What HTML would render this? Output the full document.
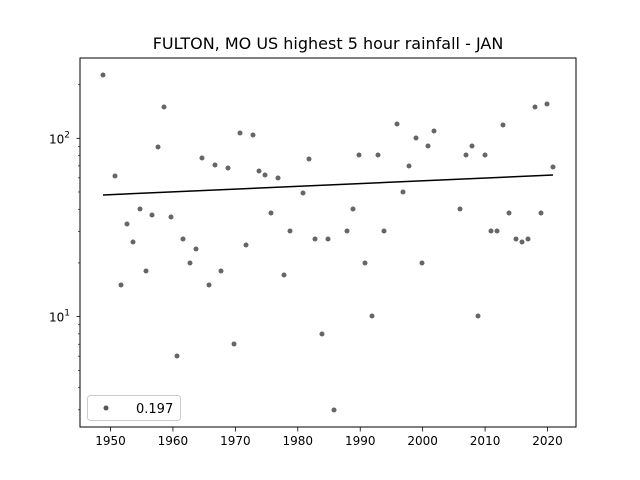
<!DOCTYPE html>
<html><head><style>body{margin:0;background:#fff}svg{display:block}text{font-family:"DejaVu Sans","Liberation Sans",sans-serif}</style></head>
<body>
<svg id="s" width="640" height="480" xmlns="http://www.w3.org/2000/svg">
<rect width="640" height="480" fill="#fff"/>
<text x="328" y="49" font-size="16" text-anchor="middle">FULTON, MO US highest 5 hour rainfall - JAN</text>
<g id="pts" fill="#555" fill-opacity="0.9"></g>
<line x1="103" y1="195" x2="553" y2="175" stroke="#000" stroke-width="1.5"/>
<rect x="80" y="58" width="496" height="369" fill="none" stroke="#000" stroke-width="1"/>
<g id="ticks" stroke="#000" stroke-width="0.8"></g>
<g id="labels" font-size="12"></g>
<rect x="87.5" y="395.5" width="93" height="25" rx="3" fill="#fff" fill-opacity="0.8" stroke="#ccc"/>
<circle cx="106" cy="408" r="2.5" fill="#555"/>
<text x="136" y="413" font-size="13">0.197</text>
</svg>
<script>
var P=[[103,75],[115,176],[121,285],[127,224],[133,242],[140,209],[146,271],[152,215],[158,147],[164,107],[171,217],[177,356],[183,239],[190,263],[196,249],[202,158],[209,285],[215,165],[221,271],[228,168],[234,344],[240,133],[246,245],[253,135],[259,171],[265,175],[271,213],[278,178],[284,275],[290,231],[303,193],[309,159],[315,239],[322,334],[328,239],[334,410],[347,231],[353,209],[359,155],[365,263],[372,316],[378,155],[384,231],[397,124],[403,192],[409,166],[416,138],[422,263],[428,146],[434,131],[460,209],[466,155],[472,146],[478,316],[485,155],[491,231],[497,231],[503,125],[509,213],[516,239],[522,242],[528,239],[535,107],[541,213],[547,104],[553,167]];
var ns="http://www.w3.org/2000/svg",g=document.getElementById('pts'),t=document.getElementById('ticks'),l=document.getElementById('labels');
function el(p,n,a){var e=document.createElementNS(ns,n);for(var k in a)e.setAttribute(k,a[k]);p.appendChild(e);return e;}
P.forEach(function(p){el(g,'circle',{cx:p[0],cy:p[1],r:2.5});});
for(var y=1950;y<=2020;y+=10){var x=110.5+(y-1950)*6.243;el(t,'line',{x1:x,y1:427,x2:x,y2:431.5});var e=el(l,'text',{x:x,y:445,'text-anchor':'middle'});e.textContent=y;}
function Y(v){return 138.3-178.3*Math.log10(v/100);}
[1,2].forEach(function(d){var y=Y(Math.pow(10,d));el(t,'line',{x1:76.5,y1:y,x2:80,y2:y});var e=el(l,'text',{x:70,y:y+5,'text-anchor':'end'});e.innerHTML='10<tspan dy="-6" font-size="9">'+d+'</tspan>';});
[3,4,5,6,7,8,9,20,30,40,50,60,70,80,90,200].forEach(function(v){var y=Y(v);if(y>58&&y<427)el(t,'line',{x1:78,y1:y,x2:80,y2:y,'stroke-width':0.6});});
</script>
</body></html>
